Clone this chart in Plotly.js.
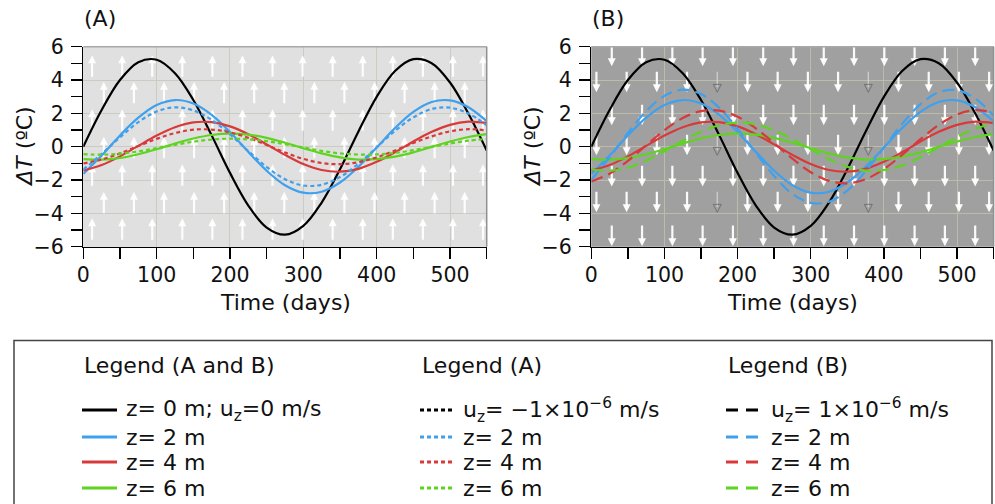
<!DOCTYPE html>
<html>
<head>
<meta charset="utf-8">
<script src="https://cdn.plot.ly/plotly-3.0.1.min.js"></script>
<style>html,body{margin:0;padding:0;background:#fff;}#chart{width:995px;height:504px;}</style>
</head>
<body>
<div id="chart"></div>
<script>
// ---- data ----
const days = [0,25,50,75,100,125,150,175,200,225,250,275,300,325,350,375,400,425,450,475,500,525,550];
const z0 = [0,2.20,4.00,5.07,5.22,4.41,2.80,0.68,-1.57,-3.53,-4.85,-5.28,-4.75,-3.35,-1.35,0.90,2.99,4.54,5.25,5.01,3.85,1.99,-0.23];
const z2 = [-1.63,-0.53,0.67,1.74,2.50,2.80,2.59,1.91,0.88,-0.31,-1.44,-2.31,-2.76,-2.70,-2.15,-1.21,-0.05,1.12,2.09,2.68,2.78,2.37,1.53];
const z4 = [-1.43,-1.10,-0.58,0.05,0.67,1.17,1.46,1.47,1.22,0.75,0.14,-0.49,-1.04,-1.40,-1.50,-1.33,-0.91,-0.33,0.31,0.89,1.31,1.50,1.41];
const z6 = [-0.74,-0.78,-0.68,-0.45,-0.15,0.19,0.49,0.70,0.78,0.72,0.53,0.24,-0.09,-0.40,-0.64,-0.77,-0.75,-0.60,-0.34,-0.01,0.31,0.58,0.75];
// panel A: u_z = -1e-6 m/s (dotted)
const z2Up = [-1.37,-0.44,0.56,1.47,2.11,2.36,2.18,1.61,0.74,-0.26,-1.22,-1.95,-2.33,-2.28,-1.82,-1.02,-0.04,0.95,1.76,2.26,2.34,1.99,1.29];
const z4Up = [-1.00,-0.77,-0.40,0.04,0.47,0.82,1.02,1.03,0.86,0.53,0.10,-0.35,-0.73,-0.98,-1.05,-0.93,-0.64,-0.23,0.22,0.62,0.92,1.05,0.98];
const z6Up = [-0.45,-0.48,-0.42,-0.28,-0.09,0.11,0.30,0.43,0.48,0.44,0.33,0.15,-0.05,-0.25,-0.40,-0.47,-0.46,-0.37,-0.21,-0.01,0.19,0.36,0.46];
// panel B: u_z = +1e-6 m/s (dashed)
const z2Down = [-1.99,-0.64,0.82,2.13,3.05,3.42,3.16,2.33,1.07,-0.38,-1.76,-2.83,-3.37,-3.30,-2.63,-1.48,-0.06,1.37,2.55,3.27,3.39,2.89,1.86];
const z4Down = [-2.09,-1.62,-0.85,0.08,0.99,1.72,2.13,2.16,1.80,1.10,0.21,-0.72,-1.53,-2.05,-2.20,-1.95,-1.34,-0.49,0.45,1.31,1.93,2.19,2.06];
const z6Down = [-1.37,-1.44,-1.26,-0.84,-0.27,0.35,0.90,1.29,1.45,1.34,0.99,0.45,-0.16,-0.75,-1.20,-1.43,-1.40,-1.12,-0.63,-0.03,0.58,1.08,1.39];

// flow arrows (background field)
const arrowRowsA = [4.84,3.25,1.6,-0.05,-1.7,-3.35,-4.94];
const arrowColsA1 = [12,53,94,135,176,217,258,299,340,381,422,463,504,545];
const arrowColsA2 = [28,69,110,151,192,233,274,315,356,397,438,479,520];
const arrowRowsB = [5.45,3.88,1.9,0.1,-1.77,-3.32,-5.35];
const arrowColsB1 = [28,69.4,110.8,152.2,193.6,235,276.4,317.8,359.2,400.6,442,483.4,524.8];
const arrowColsB2 = [7,48.3,89.6,130.9,213.5,254.8,296.1,337.4,420,461.3,502.6,543.9];
const arrowColsB2Faint = [172.2,378.7];

// tick labels
const xTicks = [0,100,200,300,400,500];
const yTicks = [-6,-4,-2,0,2,4,6];

// legend labels
const legendHeads = ['Legend (A and B)','Legend (A)','Legend (B)'];
const legendCol1 = ['z= 0 m; u<sub>z</sub>=0 m/s','z= 2 m','z= 4 m','z= 6 m'];
const legendCol2 = ['u<sub>z</sub>= \u22121\u00d710<sup>\u22126</sup> m/s','z= 2 m','z= 4 m','z= 6 m'];
const legendCol3 = ['u<sub>z</sub>= 1\u00d710<sup>\u22126</sup> m/s','z= 2 m','z= 4 m','z= 6 m'];

// ---- styling ----
const FONT = 'DejaVu Sans, Verdana, sans-serif';
const W = 995, H = 504;
const X = px => px / W;
const Y = py => 1 - py / H;
const cBlack = '#000000', cBlue = '#3fa0ee', cRed = '#d83a3a', cGreen = '#5fd420';
const lineColors = [cBlack, cBlue, cRed, cGreen];
const DOT = '4px,3px';
const DASH = '12px,6px';
const LW = 2.2;

function arrowTraces(rows, colsOdd, colsEven, half, dir, xa, ya, color, faintCols) {
  const sx = [], sy = [], hx = [], hy = [];
  const fx = [], fy = [], fhx = [], fhy = [];
  rows.forEach((c, i) => {
    const cols = (i % 2 === 0) ? colsOdd : colsEven;
    const tail = c - dir * half, tip = c + dir * half;
    cols.forEach(x => {
      sx.push(x, x, null); sy.push(tail, tip - dir * 0.3, null);
      hx.push(x); hy.push(tip);
    });
    if (faintCols && i % 2 === 1) {
      faintCols.forEach(x => {
        fx.push(x, x, null); fy.push(tail, tip - dir * 0.3, null);
        fhx.push(x); fhy.push(tip);
      });
    }
  });
  const sym = dir > 0 ? 'arrow-up' : 'arrow-down';
  const out = [
    {x: sx, y: sy, xaxis: xa, yaxis: ya, mode: 'lines', line: {color: color, width: 2.2}, hoverinfo: 'skip', showlegend: false},
    {x: hx, y: hy, xaxis: xa, yaxis: ya, mode: 'markers', marker: {symbol: sym, size: 8, color: color, line: {width: 0}}, hoverinfo: 'skip', showlegend: false}
  ];
  if (faintCols) {
    out.push({x: fx, y: fy, xaxis: xa, yaxis: ya, mode: 'lines', line: {color: 'rgba(215,215,215,0.9)', width: 1.2}, hoverinfo: 'skip', showlegend: false});
    out.push({x: fhx, y: fhy, xaxis: xa, yaxis: ya, mode: 'markers', marker: {symbol: sym + '-open', size: 8, color: 'rgba(110,110,110,0.9)', line: {width: 1}}, hoverinfo: 'skip', showlegend: false});
  }
  return out;
}

function curve(y, color, dash, xa, ya) {
  return {x: days, y: y, xaxis: xa, yaxis: ya, mode: 'lines', line: {color: color, width: LW, dash: dash, shape: 'spline', smoothing: 1}, hoverinfo: 'skip', showlegend: false};
}

const traces = [];
traces.push(...arrowTraces(arrowRowsA, arrowColsA1, arrowColsA2, 0.65, 1, 'x', 'y', 'rgba(255,255,255,0.92)', null));
traces.push(...arrowTraces(arrowRowsB, arrowColsB1, arrowColsB2, 0.62, -1, 'x2', 'y2', 'rgba(255,255,255,0.95)', arrowColsB2Faint));
// panel A
[z0, z2, z4, z6].forEach((s, i) => traces.push(curve(s, lineColors[i], 'solid', 'x', 'y')));
[z2Up, z4Up, z6Up].forEach((s, i) => traces.push(curve(s, lineColors[i + 1], DOT, 'x', 'y')));
// panel B
[z0, z2, z4, z6].forEach((s, i) => traces.push(curve(s, lineColors[i], 'solid', 'x2', 'y2')));
[z2Down, z4Down, z6Down].forEach((s, i) => traces.push(curve(s, lineColors[i + 1], DASH, 'x2', 'y2')));

const tickFont = {family: FONT, size: 20.5, color: '#111'};
function xAxis(domain, grid) {
  return {
    domain: domain, range: [0, 550], tickvals: xTicks, ticktext: xTicks.map(String),
    ticks: 'outside', ticklen: 11, tickwidth: 1.5, tickcolor: '#000',
    minor: {dtick: 50, tick0: 0, ticks: 'outside', ticklen: 11, tickwidth: 1.5, tickcolor: '#000', showgrid: false},
    showline: true, linecolor: '#000', linewidth: 1.5,
    showgrid: true, gridcolor: grid, gridwidth: 1, zeroline: false,
    tickfont: tickFont, fixedrange: true, ticklabelstandoff: -2
  };
}
function yAxis(grid) {
  return {
    domain: [Y(246.7), Y(46.7)], range: [-6, 6], tickvals: yTicks, ticktext: yTicks.map(v => v < 0 ? '\u2212' + Math.abs(v) : String(v)),
    ticks: 'outside', ticklen: 11, tickwidth: 1.5, tickcolor: '#000',
    minor: {dtick: 1, tick0: 0, ticks: 'outside', ticklen: 11, tickwidth: 1.5, tickcolor: '#000', showgrid: false},
    showline: true, linecolor: '#000', linewidth: 1.5,
    showgrid: true, gridcolor: grid, gridwidth: 1, zeroline: false,
    tickfont: tickFont, fixedrange: true, ticklabelstandoff: 3
  };
}

const xa1 = xAxis([X(83.3), X(486.7)], '#cbcbc2'); xa1.anchor = 'y';
const xa2 = xAxis([X(591.3), X(993.6)], '#bdbcaa'); xa2.anchor = 'y2';
const ya1 = yAxis('#cbcbc2'); ya1.anchor = 'x';
const ya2 = yAxis('#bdbcaa'); ya2.anchor = 'x2';

const shapes = [
  {type: 'rect', xref: 'x domain', yref: 'y domain', x0: 0, x1: 1, y0: 0, y1: 1, fillcolor: '#e0e0e0', line: {width: 0}, layer: 'below'},
  {type: 'rect', xref: 'x2 domain', yref: 'y2 domain', x0: 0, x1: 1, y0: 0, y1: 1, fillcolor: '#a0a0a0', line: {width: 0}, layer: 'below'},
  // frame (top/right)
  {type: 'line', xref: 'x domain', yref: 'y domain', x0: 0, x1: 1, y0: 1, y1: 1, line: {color: '#a8a8a8', width: 1.5}},
  {type: 'line', xref: 'x domain', yref: 'y domain', x0: 1, x1: 1, y0: 0, y1: 1, line: {color: '#909090', width: 1.5}},
  {type: 'line', xref: 'x2 domain', yref: 'y2 domain', x0: 0, x1: 1, y0: 1, y1: 1, line: {color: '#a8a8a8', width: 1.5}},
  {type: 'line', xref: 'x2 domain', yref: 'y2 domain', x0: 1, x1: 1, y0: 0, y1: 1, line: {color: '#909090', width: 1.5}},
  // legend box
  {type: 'rect', xref: 'paper', yref: 'paper', x0: X(14), x1: X(992), y0: Y(520), y1: Y(340.5), line: {color: '#444', width: 1.5}, fillcolor: 'rgba(0,0,0,0)'}
];

const annotations = [];
const txt = (text, px, py, size, anchor, extra) => Object.assign({
  text: text, xref: 'paper', yref: 'paper', x: X(px), y: Y(py), xanchor: anchor || 'left', yanchor: 'middle',
  showarrow: false, font: {family: FONT, size: size, color: '#111'}
}, extra || {});

// panel labels and axis titles
annotations.push(txt('(A)', 82, 19, 22));
annotations.push(txt('(B)', 590, 19, 22));
annotations.push(txt('Time (days)', 285, 302, 22, 'center'));
annotations.push(txt('Time (days)', 792.5, 302, 22, 'center'));
annotations.push(txt('<i>\u0394T</i> (\u00baC)', 25, 146.7, 22, 'center', {textangle: -90}));
annotations.push(txt('<i>\u0394T</i> (\u00baC)', 533, 146.7, 22, 'center', {textangle: -90}));

// custom legend
const colX = [82, 420, 726];
const textX = [124, 461, 769];
const rowY = [410, 437, 462, 488];
const colDash = ['solid', DOT, '12px,8px'];
const colLabels = [legendCol1, legendCol2, legendCol3];
legendHeads.forEach((h, i) => annotations.push(txt(h, colX[i], 365, 22)));
colLabels.forEach((labels, ci) => {
  labels.forEach((lab, ri) => {
    annotations.push(txt(lab, textX[ci], rowY[ri], 22));
    shapes.push({type: 'line', xref: 'paper', yref: 'paper', x0: X(colX[ci]), x1: X(colX[ci] + 35), y0: Y(rowY[ri]), y1: Y(rowY[ri]),
      line: {color: lineColors[ri], width: 3, dash: colDash[ci]}});
  });
});

const layout = {
  width: W, height: H, margin: {l: 0, r: 0, t: 0, b: 0},
  paper_bgcolor: '#ffffff', plot_bgcolor: '#e0e0e0',
  font: {family: FONT, color: '#111'},
  xaxis: xa1, yaxis: ya1, xaxis2: xa2, yaxis2: ya2,
  shapes: shapes, annotations: annotations, showlegend: false
};

Plotly.newPlot('chart', traces, layout, {displayModeBar: false, staticPlot: true});
</script>
</body>
</html>
